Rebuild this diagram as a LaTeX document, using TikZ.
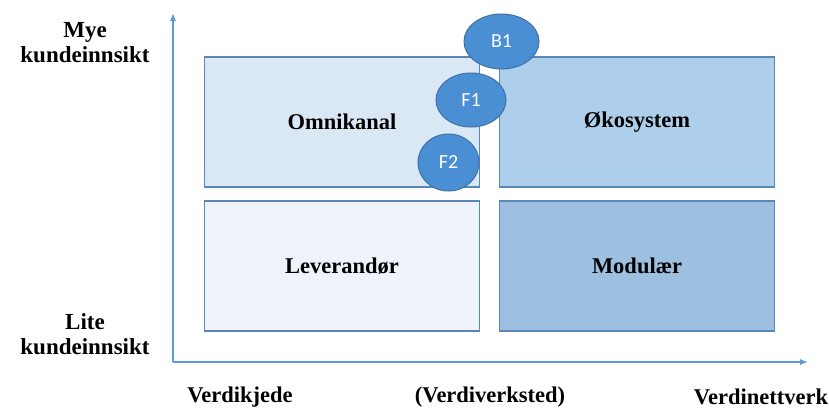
\documentclass[tikz,border=0pt]{standalone}
\usepackage{fontspec}
\setmainfont{Liberation Serif}
\newfontfamily\calib{Carlito}
\usetikzlibrary{shapes.geometric,arrows.meta}
\definecolor{axisblue}{HTML}{5B9BD5}
\definecolor{boxborder}{HTML}{5A86BA}
\definecolor{fillA}{HTML}{DAE7F4}
\definecolor{fillB}{HTML}{AECFEC}
\definecolor{fillC}{HTML}{EEF3FA}
\definecolor{fillD}{HTML}{9DC0E1}
\definecolor{ellfill}{HTML}{4A8FD4}
\definecolor{ellborder}{HTML}{3E70A6}
\tikzset{
  quad/.style={draw=boxborder, line width=1.2pt, minimum width=275pt, minimum height=130pt, inner sep=0pt, font=\fontsize{22.5}{24}\selectfont\bfseries},
  blob/.style={ellipse, draw=ellborder, fill=ellfill, line width=1pt, inner sep=0pt, text=white, font=\calib\fontsize{20}{22}\selectfont},
  axislbl/.style={font=\fontsize{23}{25}\selectfont\bfseries, align=center},
  bottomlbl/.style={font=\fontsize{22.5}{24}\selectfont\bfseries},
  axisline/.style={draw=axisblue, line width=1.2pt, -{Latex[length=8pt,width=6pt]}}
}
\begin{document}
\begin{tikzpicture}[x=1pt,y=-1pt]
\useasboundingbox (0,0) rectangle (829,408);
\coordinate (orig) at (173,362);
\coordinate (ytop) at (173,13);
\coordinate (xend) at (808,362);
\draw[axisline] (orig) -- (ytop);
\draw[axisline] (orig) -- (xend);
\node[quad, fill=fillA] (omni) at (342,122) {Omnikanal};
\node[quad, fill=fillB] (oko) at (637,122) {Økosystem};
\node[quad, fill=fillC] (lev) at (342,266) {Leverandør};
\node[quad, fill=fillD] (mod) at (637,266) {Modulær};
\node[blob, minimum width=75pt, minimum height=55pt] (b1) at (501.5,41.5) {B1};
\node[blob, minimum width=70pt, minimum height=54pt] (f1) at (471,100) {F1};
\node[blob, minimum width=61pt, minimum height=57pt] (f2) at (448.5,162.5) {F2};
\node[axislbl] (mye) at (85,43) {Mye\\kundeinnsikt};
\node[axislbl] (lite) at (85,334) {Lite\\kundeinnsikt};
\node[bottomlbl] (vk) at (240,397) {Verdikjede};
\node[bottomlbl] (vv) at (490,397) {(Verdiverksted)};
\node[bottomlbl] (vn) at (761,397) {Verdinettverk};
\end{tikzpicture}
\end{document}
